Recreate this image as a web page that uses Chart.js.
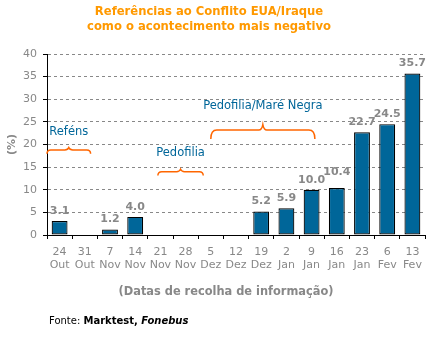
<!DOCTYPE html>
<html>
<head>
<meta charset="utf-8">
<script src="https://cdn.jsdelivr.net/npm/chart.js@4/dist/chart.umd.min.js"></script>
<style>
  html, body { margin: 0; padding: 0; background: #fff; }
  #wrap { position: relative; width: 432px; height: 338px; font-family: "DejaVu Sans", Verdana, sans-serif; }
  #chart { position: absolute; left: 0; top: 0; }
  .title { position: absolute; left: 0; top: 4px; width: 418px; text-align: center; color: #ff9900; font-weight: bold; font-size: 11.6px; line-height: 14.5px; }
  .xtitle { position: absolute; left: 26px; top: 284px; width: 400px; text-align: center; color: #888; font-weight: bold; font-size: 11.4px; line-height: 14px; }
  .source { position: absolute; left: 49px; top: 315px; color: #000; font-size: 10px; line-height: 12px; }
</style>
</head>
<body>
<div id="wrap">
  <canvas id="chart" width="432" height="338"></canvas>
  <div class="title">Referências ao Conflito EUA/Iraque<br>como o acontecimento mais negativo</div>
  <div class="xtitle">(Datas de recolha de informação)</div>
  <div class="source">Fonte: <b>Marktest, <i>Fonebus</i></b></div>
</div>
<script>
/* Survey dates + share (%) naming the Iraq conflict as most negative event. */
const days   = ["24","31","7","14","21","28","5","12","19","2","9","16","23","6","13"];
const months = ["Out","Out","Nov","Nov","Nov","Nov","Dez","Dez","Dez","Jan","Jan","Jan","Jan","Fev","Fev"];
const values = [3.1, null, 1.2, 4.0, null, null, null, null, 5.2, 5.9, 10.0, 10.4, 22.7, 24.5, 35.7];
const yTicks = [0, 5, 10, 15, 20, 25, 30, 35, 40];

// Competing news events, spans given in category index units.
const eventNames = ["Reféns", "Pedofilia", "Pedofilia/Maré Negra"];
const eventFrom  = [-0.5, 3.9, 6.0];
const eventTo    = [1.23, 5.7, 10.13];
const eventLevel = [18.8, 14.0, 23.2];
const eventText  = [22.8, 18.1, 28.4];

(function () {
  const $ = (id) => document.getElementById(id);
  const GRAY = "#888";
  Chart.defaults.font.family = '"DejaVu Sans", Verdana, sans-serif';
  Chart.defaults.font.size = 11;

  // Value labels above each bar; nudge up when it would collide with the previous one.
  const barLabels = {
    id: "barLabels",
    afterDatasetsDraw(chart) {
      const ctx = chart.ctx;
      const meta = chart.getDatasetMeta(0);
      ctx.save();
      ctx.font = 'bold 11px "DejaVu Sans", Verdana, sans-serif';
      ctx.fillStyle = GRAY;
      ctx.textAlign = "center";
      ctx.textBaseline = "middle";
      let prev = null;
      meta.data.forEach((bar, i) => {
        if (values[i] == null) { prev = null; return; }
        const txt = values[i].toFixed(1);
        const w = ctx.measureText(txt).width;
        let y = bar.y - 10;
        if (prev && (bar.x - prev.x) < (w + prev.w) / 2 && Math.abs(y - prev.y) < 8) y = prev.y - 8;
        ctx.fillText(txt, bar.x, y);
        prev = { x: bar.x, y, w };
      });
      ctx.restore();
    }
  };

  // Curly braces marking other events, with their names on top.
  const events = {
    id: "events",
    afterDatasetsDraw(chart) {
      const ctx = chart.ctx, x = chart.scales.x, y = chart.scales.y;
      ctx.save();
      eventNames.forEach((name, i) => {
        const x1 = x.getPixelForValue(eventFrom[i]);
        const x2 = x.getPixelForValue(eventTo[i]);
        const yy = y.getPixelForValue(eventLevel[i]);
        const xm = (x1 + x2) / 2;
        const h = Math.min(9, (x2 - x1) * 0.087);
        const r = Math.min(6, h);
        ctx.strokeStyle = "#ff6600";
        ctx.lineWidth = 1.5;
        ctx.beginPath();
        ctx.moveTo(x1, yy + h);
        ctx.quadraticCurveTo(x1, yy, x1 + r, yy);
        ctx.lineTo(xm - 4, yy);
        ctx.quadraticCurveTo(xm - 1, yy, xm, yy - h * 0.6);
        ctx.quadraticCurveTo(xm + 1, yy, xm + 4, yy);
        ctx.lineTo(x2 - r, yy);
        ctx.quadraticCurveTo(x2, yy, x2, yy + h);
        ctx.stroke();
        ctx.font = '11.5px "DejaVu Sans", Verdana, sans-serif';
        ctx.fillStyle = "#006699";
        ctx.textAlign = "center";
        ctx.textBaseline = "middle";
        ctx.fillText(name, xm, y.getPixelForValue(eventText[i]));
      });
      ctx.restore();
    }
  };

  new Chart($("chart"), {
    type: "bar",
    data: {
      labels: days.map((d, i) => [d, months[i]]),
      datasets: [{
        data: values,
        backgroundColor: "#006699",
        borderColor: "#000",
        borderWidth: 1.2,
        borderSkipped: false,
        barPercentage: 0.63,
        categoryPercentage: 1
      }]
    },
    options: {
      responsive: false,
      animation: false,
      layout: { padding: { top: 54, left: 0, right: 7, bottom: 38 } },
      plugins: { legend: { display: false }, tooltip: { enabled: false } },
      scales: {
        x: {
          afterFit: (s) => { s.height = 65; },
          grid: { offset: true, drawOnChartArea: false, tickLength: 4, tickColor: "#000" },
          border: { color: "#000" },
          ticks: { color: GRAY, padding: 6, autoSkip: false, maxRotation: 0, font: { size: 11, lineHeight: 1.23 } }
        },
        y: {
          min: 0, max: 40,
          afterFit: (s) => { s.width = 47; },
          afterBuildTicks: (s) => { s.ticks = yTicks.map(v => ({ value: v })); },
          grid: { color: GRAY, tickLength: 4, tickColor: "#000", tickBorderDash: [] },
          border: { color: "#000", dash: [3, 3] },
          ticks: { color: GRAY, padding: 6, font: { size: 11 } },
          title: { display: true, text: "(%)", color: GRAY, font: { size: 11, weight: "bold" }, padding: { top: 6 } }
        }
      }
    },
    plugins: [barLabels, events]
  });
})();
</script>
</body>
</html>
